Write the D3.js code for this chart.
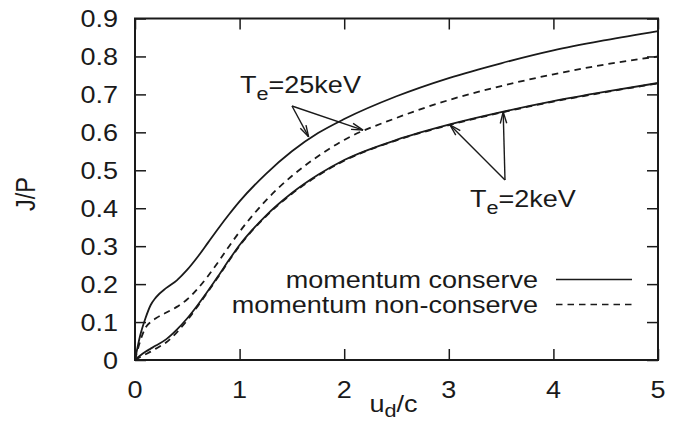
<!DOCTYPE html>
<html><head><meta charset="utf-8">
<script src="https://cdn.jsdelivr.net/npm/d3@7"></script>
<style>
html,body{margin:0;padding:0;background:#fff;}
svg text{font-family:"Liberation Sans",Arial,Helvetica,sans-serif;fill:#1a1a1a;}
</style></head>
<body><svg id="c" width="696" height="443"></svg>
<script>
// ---- data ----
const uX = [0,0.05,0.1,0.15,0.2,0.3,0.4,0.5,0.6,0.7,0.8,0.9,1.0,1.25,1.5,1.75,2.0,2.5,3.0,3.5,4.0,4.5,5.0];
const cons25 = [0,0.065,0.11,0.145,0.165,0.19,0.21,0.238,0.272,0.31,0.348,0.384,0.418,0.49,0.55,0.598,0.635,0.695,0.743,0.782,0.816,0.843,0.867];
const non25  = [0,0.05,0.085,0.10,0.11,0.125,0.14,0.16,0.188,0.222,0.26,0.30,0.338,0.42,0.485,0.537,0.58,0.638,0.685,0.722,0.753,0.779,0.80];
const cons2  = [0,0.012,0.022,0.03,0.038,0.055,0.08,0.11,0.145,0.183,0.223,0.264,0.303,0.38,0.44,0.488,0.527,0.58,0.62,0.653,0.682,0.707,0.73];
const non2   = [0,0.008,0.015,0.022,0.03,0.047,0.073,0.105,0.142,0.181,0.221,0.262,0.301,0.378,0.438,0.486,0.525,0.579,0.619,0.652,0.681,0.706,0.729];
const xTicks = [0,1,2,3,4,5];
const yTicks = [0,0.1,0.2,0.3,0.4,0.5,0.6,0.7,0.8,0.9];
const legendLabels = ["momentum conserve","momentum non-conserve"];
const ann25 = {text:"25keV", tips:[[1.66,0.588],[2.18,0.606]]};
const ann2  = {text:"2keV",  tips:[[3.01,0.62],[3.52,0.654]]};

// ---- layout ----
const L=135, R=658, T=18.5, B=360, SX=1.15, FS=23.5;
const svg = d3.select("#c");
const x = d3.scaleLinear().domain([0,5]).range([L,R]);
const y = d3.scaleLinear().domain([0,0.9]).range([B,T]);
const ink = "#1a1a1a";

function txt(px,py,anchor,rot){
  return svg.append("text")
    .attr("transform",`translate(${px},${py}) scale(${SX},1)`+(rot?` rotate(${rot})`:""))
    .attr("text-anchor",anchor).attr("font-size",FS);
}

const tk = 11;
svg.append("g").attr("transform",`translate(${L},0)`)
  .call(d3.axisLeft(y).tickValues(yTicks).tickSize(-tk).tickSizeOuter(0).tickFormat(""));
svg.append("g").attr("transform",`translate(${R},0)`)
  .call(d3.axisRight(y).tickValues(yTicks).tickSize(-tk).tickSizeOuter(0).tickFormat(""));
svg.append("g").attr("transform",`translate(0,${B})`)
  .call(d3.axisBottom(x).tickValues(xTicks).tickSize(-tk).tickSizeOuter(0).tickFormat(""));
svg.append("g").attr("transform",`translate(0,${T})`)
  .call(d3.axisTop(x).tickValues(xTicks).tickSize(-tk).tickSizeOuter(0).tickFormat(""));
svg.selectAll(".domain").remove();
svg.selectAll(".tick line").attr("stroke",ink).attr("stroke-width",1.5);

svg.append("rect").attr("x",L).attr("y",T).attr("width",R-L).attr("height",B-T)
  .attr("fill","none").attr("stroke",ink).attr("stroke-width",2);

yTicks.forEach(v=>{ txt(118,y(v)+8.5,"end").text(v===0?"0":d3.format(".1f")(v)); });
xTicks.forEach(v=>{ txt(x(v),398,"middle").text(String(v)); });

const xl = txt(x(2.5)-3,412,"middle");
xl.append("tspan").text("u");
xl.append("tspan").attr("font-size",FS*0.8).attr("dy",5).text("d");
xl.append("tspan").attr("dy",-5).text("/c");
txt(35,194,"middle",-90).text("J/P");

const line = d3.line().x(d=>x(d[0])).y(d=>y(d[1])).curve(d3.curveMonotoneX);
const series = [
  {v:cons2, dash:null},
  {v:non2, dash:"6.5,5"},
  {v:cons25, dash:null},
  {v:non25, dash:"6.5,5"}
];
series.forEach(s=>{
  svg.append("path").attr("d",line(uX.map((u,i)=>[u,s.v[i]])))
    .attr("fill","none").attr("stroke",ink).attr("stroke-width",1.8)
    .attr("stroke-dasharray",s.dash);
});

function arrow(x0,y0,x1,y1){
  svg.append("line").attr("x1",x0).attr("y1",y0).attr("x2",x1).attr("y2",y1)
    .attr("stroke",ink).attr("stroke-width",1.4);
  const a=Math.atan2(y1-y0,x1-x0), len=12, h=0.27;
  [a+Math.PI-h,a+Math.PI+h].forEach(b=>{
    svg.append("line").attr("x1",x1).attr("y1",y1)
      .attr("x2",x1+len*Math.cos(b)).attr("y2",y1+len*Math.sin(b))
      .attr("stroke",ink).attr("stroke-width",1.4);
  });
}
function teLabel(px,py,val){
  const t = txt(px,py,"start");
  t.append("tspan").text("T");
  t.append("tspan").attr("font-size",FS*0.8).attr("dy",7).text("e");
  t.append("tspan").attr("dy",-7).text("="+val);
}
teLabel(240,93,ann25.text);
ann25.tips.forEach(p=>arrow(292,106,x(p[0]),y(p[1])));
teLabel(470,207,ann2.text);
ann2.tips.forEach(p=>arrow(505,180,x(p[0]),y(p[1])));

legendLabels.forEach((lab,i)=>{
  const by = 288 + i*25;
  txt(538,by,"end").text(lab);
  svg.append("line").attr("x1",556).attr("x2",632)
    .attr("y1",by-8.5).attr("y2",by-8.5)
    .attr("stroke",ink).attr("stroke-width",1.7)
    .attr("stroke-dasharray",i?"6.5,5":null);
});
</script></body></html>
